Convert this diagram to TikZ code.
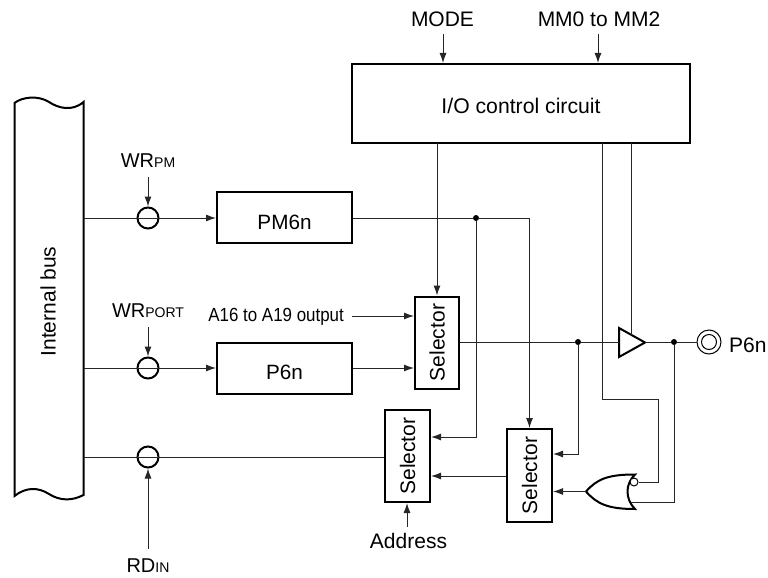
\documentclass[tikz,border=0pt]{standalone}
\usepackage{fontspec}
\setmainfont{Liberation Sans}
\usetikzlibrary{arrows.meta}
\tikzset{
  x=1pt,y=-1pt,
  thick box/.style={draw=black,line width=2pt,fill=white,inner sep=0pt,font=\fontsize{20.7}{24}\selectfont},
  wire/.style={draw=black!85,line width=1pt},
  arr/.style={wire,-{Latex[length=10pt,width=7pt]}},
  dot/.style={circle,fill=black,inner sep=0pt,minimum size=6pt},
  gate/.style={circle,draw=black,line width=2pt,fill=none,inner sep=0pt,minimum size=21pt},
  lab/.style={inner sep=0pt,font=\fontsize{21}{24}\selectfont},
  wrlab/.style={inner sep=0pt,font=\fontsize{20}{24}\selectfont},
}
\newcommand{\subs}[1]{{\fontsize{14}{16}\selectfont #1}}
\newcommand{\sel}{\rotatebox{90}{\fontsize{21}{24}\selectfont Selector}}
\begin{document}
\begin{tikzpicture}
\useasboundingbox (0,0) rectangle (768,578);
% internal bus
\draw[black,line width=2pt,fill=white] (14.5,103) .. controls (22,97) and (38,95) .. (49,102) .. controls (58,108) and (72,112) .. (83.5,102)
  -- (83.5,495) .. controls (72,501) and (60,501) .. (49,494) .. controls (38,487) and (26,487) .. (14.5,496) -- cycle;
\node[lab,rotate=90] (bus) at (48,301.5) {Internal bus};
% blocks
\node[thick box,minimum width=338pt,minimum height=79pt] (io) at (521,103.5) {\raisebox{-9.5pt}[0pt][0pt]{\fontsize{21.2}{24}\selectfont I/O control circuit}};
\node[thick box,minimum width=135pt,minimum height=51pt] (pm) at (284.5,217.5) {\raisebox{-11.5pt}[0pt][0pt]{PM6n}};
\node[thick box,minimum width=135pt,minimum height=51pt] (p6) at (284.5,368.5) {\raisebox{-10.5pt}[0pt][0pt]{P6n}};
\node[thick box,minimum width=44pt,minimum height=92pt] (s1) at (437,342.5) {\sel};
\node[thick box,minimum width=45pt,minimum height=92pt] (s2) at (407.5,456) {\sel};
\node[thick box,minimum width=45pt,minimum height=93pt] (s3) at (529.5,475.5) {\sel};
% gates
\node[gate] (g1) at (148,218) {};
\node[gate] (g2) at (148,368) {};
\node[gate] (g3) at (148,457) {};
% labels
\node[lab] (mode) at (442.5,19) {MODE};
\node[lab] (mm) at (599,19) {MM0 to MM2};
\node[wrlab] (wrpm) at (148,161) {WR\subs{PM}};
\node[wrlab] (wrport) at (148,311) {WR\subs{PORT}};
\node[wrlab] (rdin) at (148,566) {RD\subs{IN}};
\node[lab] (addr) at (408.5,541) {Address};
\node[inner sep=0pt,font=\fontsize{19}{22}\selectfont,anchor=east] (a16) at (344,317) {\scalebox{.89}[1]{A16 to A19 output}};
\node[lab,anchor=west] (p6n) at (729,345) {P6n};
% free ends
\coordinate (busr1) at (83.5,218);
\coordinate (busr2) at (83.5,368);
\coordinate (busr3) at (83.5,457);
\coordinate (modeend) at (443,34);
\coordinate (mmend) at (598,34);
\coordinate (wrpmend) at (148,177);
\coordinate (wrportend) at (148,327);
\coordinate (rdend) at (148,549);
\coordinate (addrend) at (407,527);
\coordinate (a16end) at (352,316);
% buffer
\draw[black,line width=2pt,fill=white] (619,328) -- (645,342.5) -- (619,357) -- cycle;
\coordinate (bufin) at (619,342);
\coordinate (bufout) at (645,342);
\coordinate (buftop) at (631,335);
% NOR gate
\draw[black,line width=2pt,fill=white] (586,491.5) .. controls (597,479) and (608,474.5) .. (635,474.5)
  .. controls (625,484) and (625,499) .. (635,509) .. controls (608,509) and (597,504) .. (586,491.5) -- cycle;
\coordinate (norin) at (631,502);
\coordinate (norout) at (586,491.5);
% dots
\node[dot] (d1) at (476,218) {};
\node[dot] (d2) at (578,342) {};
\node[dot] (d3) at (674,342) {};
% output pin
\node[circle,draw=black,line width=1pt,fill=white,minimum size=24pt,inner sep=0pt] (pin) at (709,342) {};
\node[circle,draw=black,line width=1pt,minimum size=15pt,inner sep=0pt] (pin2) at (709,342) {};
% wires: inputs
\draw[arr] (modeend) -- (443,63);
\draw[arr] (mmend) -- (598,63);
\draw[arr] (wrpmend) -- (g1.north);
\draw[arr] (wrportend) -- (g2.north);
\draw[arr] (rdend) -- (g3.south);
\draw[arr] (addrend) -- (addrend |- s2.south);
\draw[arr] (a16end) -- (s1.west |- a16end);
% wires: bus
\draw[wire] (busr1) -- (g1.center);
\draw[arr] (g1.center) -- (pm.west |- g1.center);
\draw[wire] (busr2) -- (g2.center);
\draw[arr] (g2.center) -- (p6.west |- g2.center);
\draw[wire] (busr3) -- (g3.center);
\draw[wire] (g3.center) -- (s2.west |- g3.center);
\coordinate (p6lvl) at (0,368);
\draw[arr] (p6.east |- p6lvl) -- (s1.west |- p6lvl);
% PM6n out
\draw[wire] (pm.east |- d1) -- (d1);
\draw[arr] (d1) -- (s3.north |- d1) -- (s3.north);
\coordinate (s2a) at (0,437);
\draw[arr] (d1) -- (d1 |- s2a) -- (s2.east |- s2a);
% io
\coordinate (iob) at (0,143);
\draw[arr] (s1.north |- iob) -- (s1.north);
\coordinate (wa) at (602,143);
\node[circle,draw=black,line width=1pt,fill=white,minimum size=8pt,inner sep=0pt] (nor) at (634,482) {};
\draw[wire] (wa) -- (602,399) -- (658,399) -- (658,482) -- (nor.east);
\draw[wire] (631,143) -- (buftop);
% selector out
\draw[wire] (s1.east |- bufin) -- (d2);
\draw[wire] (d2) -- (bufin);
\coordinate (s3a) at (0,454);
\draw[arr] (d2) -- (d2 |- s3a) -- (s3.east |- s3a);
\draw[wire] (bufout) -- (d3);
\draw[wire] (d3) -- (pin.west);
\draw[wire] (d3) -- (d3 |- norin) -- (norin);
\draw[arr] (norout) -- (s3.east |- norout);
\coordinate (s2b) at (0,476);
\draw[arr] (s3.west |- s2b) -- (s2.east |- s2b);
\end{tikzpicture}
\end{document}
